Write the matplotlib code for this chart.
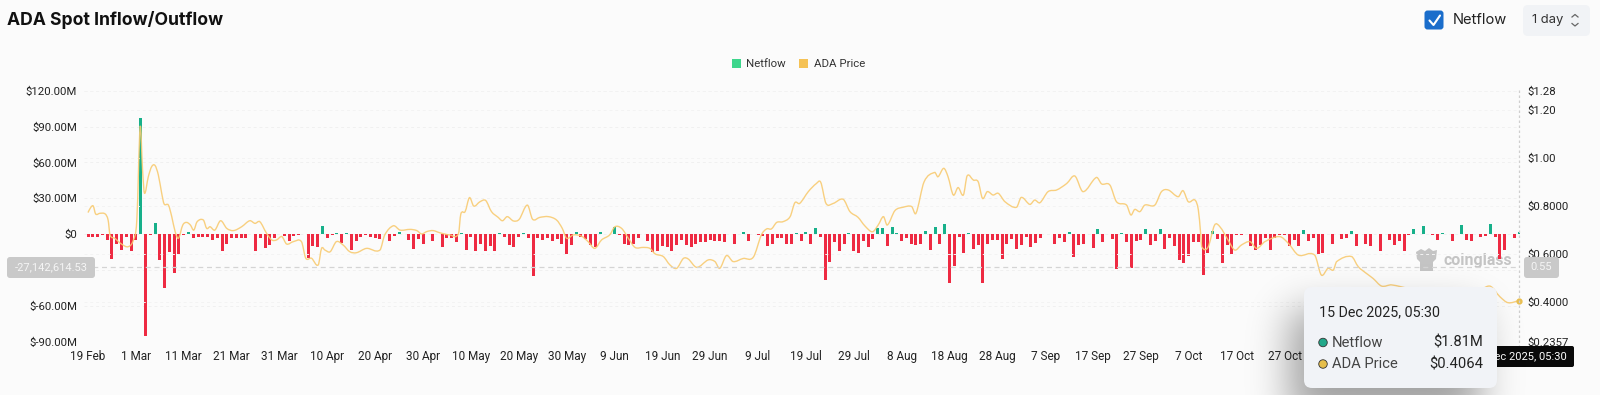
import math
import numpy as np
import pandas as pd
import matplotlib
matplotlib.use("Agg")
import matplotlib.pyplot as plt
import matplotlib.dates as mdates
from matplotlib.patches import FancyBboxPatch, Rectangle, Ellipse, Polygon, PathPatch
from matplotlib.path import Path

W, H = 1600, 395
BG = "#FBFBFB"
START = "2025-02-19"

netflow_m = [
 -2,-2,-2,-1,-5,-21,-8.5,-13.5,-2,-14.5,-4.5,97,-85.5,-1,9,-21.5,-45,-15,-32.5,-17,
 -0.5,2,-3.5,-2.5,-2,-2,-5,-3.5,-14.5,-8,-3,-3,-3,-3,0.3,-14.5,-3,-12,-9.5,-3.5,
 0,-1.5,-6,-1.5,-1,0.3,-20,-10,-10.5,6.5,-3.5,-0.5,0.8,-7.5,0.8,-13,-6,-2,-1,-2.5,
 -3.5,-4,0.5,-6,-1.5,2,0.5,-5,-12.5,-4,-8,0.5,-6,0,-10.5,-3.5,-3.5,-7,1,-13,
 -2,-14,-8,-14.5,-10,-14,1,-2,-9,-10.5,-2.5,0.8,-3,-35,-3,-5,-3,-6,-4,-8,
 -17,-9,1.5,-2,-4,-9,-11,2,0.5,0.5,6,-1,-8,-9.5,-8.5,-3.5,0,-6,-15,-14,
 -10,-11,-14,-9,-5,-9,-10.5,-8,-7,-7,-4.5,-5.5,-6,-7,0,-8,0.3,1.5,-6,0,
 -1,-1.5,-10,-8,-3.5,-3.5,-8,-8.5,1,-5.5,1.5,-8,5.5,-2,-38.5,-23.7,-6.5,-14,-8.5,1,
 -14,-16,-6,-11,-4,5,5,-10,6,1,-6,-3,-8,-9,-8,2.5,-13,6,-8,8.5,
 -41,-27,-2.5,-16,1,-12.5,-9,-40.5,-8,-5,-5,-21,-8,-4,-12.5,-9,-2,-11,-7.5,-3,
 0.5,0,-8,-3,-7,1.5,-19,-9,-8.5,0.5,-12,4,-7,0.3,-4,-29,1,-6.5,-28.5,-5.5,
 -5,4,-9,-6,4.5,-12.5,-3.5,-10,-22,-24,-18,-7,-7,-34,-16,2.5,-4,-24,-9,-17,
 -1,-1,0,-10,-13,-9,-3,-13,-3,-1,-1,-10,-5,-10,3.5,-6,-3,-17,-16,0.3,
 -8,0.3,-4,-3,3,-10,0,-8,-10,0,-14,0,-5,-9,-6,-14,-1,4.5,0,7,
 0,-0.5,-4.5,1,0,-6,0,8,-5,-6,0.3,-2,-1.5,8.5,-2,-21,-13,0,-3,1.81,
]

price_day = [
 0,.6,1.1,1.6,2.5,3.6,4.2,4.6,5.6,7,8.4,9.5,10.2,10.9,11.4,11.8,12.6,13.3,14,14.7,15.4,15.9,16.8,17.5,18.2,18.9,
 19.8,20.6,21.4,22.1,22.8,24.1,24.8,25.5,26.5,27.7,29,30.4,32.1,33.8,34.9,35.9,37.3,38.4,39.4,40.5,41.5,42.9,44.6,
 45.5,46.7,48.1,48.8,49.5,50.6,51.9,53.3,54.7,56.1,58.2,61,62,63.8,65.2,
 67.3,68.7,69.7,70.8,72.1,73.5,75.6,77.4,77.9,78.8,79.7,80.6,81.9,83.1,84.3,85.7,86.6,87.6,88.9,90.1,91.8,92.9,94.4,
 96.2,97.9,99.1,100,101.4,103.1,104.5,105.9,107.3,109,110.1,111.5,112.9,114.3,116,117.4,118.5,120.2,121.6,123,124.4,
 125.4,127.2,129.6,131,132,133.4,134.8,136.9,139,140.7,141.8,142.8,143.9,145.2,146.7,147.7,148.7,
 150.5,152.2,153.1,154.2,155.7,157.8,159.2,160.9,162.3,163.9,165.1,166.2,167,168.6,170.3,172.1,173,174.7,176.9,177.6,
 178.8,179.7,180.8,181.8,182.9,183.7,185,186,186.9,187.9,189.1,190.2,191.6,194,195,196.8,197.8,198.9,200.6,202.4,204.5,
 206.2,207.9,210.7,211.8,213.5,214.9,217,217.9,218.7,219.8,220.8,222.9,224.3,225.7,227.8,228.8,229.9,231.3,232,232.5,
 232.7,234,235.4,236.5,238.2,239.6,241,242.8,244.2,245.9,249,250.8,252.9,256.3,257.7,259.1,260.2,260.9,264,265.4,267.1,
 268.5,270.3,272.4,280,290,292.9,295,296.7,299,
]
price_usd = [
 .773,.795,.800,.767,.770,.767,.742,.680,.666,.642,.631,.659,.742,1.130,.950,.853,.922,.964,.969,.929,.853,.809,.804,.756,.694,.666,
 .721,.732,.721,.700,.735,.742,.707,.714,.700,.739,.707,.698,.714,.739,.728,.735,.687,.659,.659,.673,.642,.652,.652,
 .583,.583,.555,.624,.617,.610,.652,.638,.610,.606,.624,.617,.680,.718,.700,
 .703,.698,.684,.694,.698,.689,.680,.684,.767,.777,.835,.800,.818,.823,.777,.753,.739,.756,.738,.745,.804,.745,.753,
 .756,.742,.707,.666,.680,.675,.652,.624,.659,.680,.714,.707,.666,.628,.628,.624,.601,.590,.555,.541,.582,
 .580,.545,.576,.569,.541,.594,.569,.582,.587,.680,.705,.705,.732,.735,.756,.814,.811,
 .860,.894,.899,.811,.811,.828,.777,.753,.718,.693,.721,.756,.721,.781,.795,.798,.770,.901,.940,.922,
 .957,.922,.846,.877,.846,.926,.908,.901,.832,.860,.846,.853,.818,.795,.836,.807,.825,.814,.860,.867,.894,
 .925,.860,.919,.892,.888,.818,.804,.763,.786,.777,.804,.804,.860,.867,.839,.864,.818,.825,.784,.680,
 .631,.628,.721,.714,.659,.617,.638,.652,.624,.652,.673,.645,.596,.596,.513,.541,.534,.569,.590,.548,.520,
 .499,.467,.472,.44,.44,.467,.423,.398,.4064,
]
assert len(price_day) == len(price_usd), (len(price_day), len(price_usd))

left_ticks = [-90, -60, -30, 0, 30, 60, 90, 120]
left_labels = ["$-90.00M", "$-60.00M", "", "$0", "$30.00M", "$60.00M", "$90.00M", "$120.00M"]
right_ticks = [0.2357, 0.4, 0.6, 0.8, 1.0, 1.2, 1.28]
right_labels = ["$0.2357", "$0.4000", "$0.6000", "$0.8000", "$1.00", "$1.20", "$1.28"]

FONT = "Roboto"
UI = "Inter"
plt.rcParams["font.family"] = [FONT, "DejaVu Sans"]

fig = plt.figure(figsize=(W / 100, H / 100), dpi=100, facecolor=BG)
L, R, T, B = 84.0, 1520.0, 90.7, 341.7
ax = fig.add_axes([L / W, 1 - B / H, (R - L) / W, (B - T) / H], facecolor="none")
ax2 = ax.twinx()
ax2.set_facecolor("none")

dates = pd.date_range(START, periods=len(netflow_m), freq="D")
start = dates[0]
pxday = 4.786
x0 = mdates.date2num(start)
ax.set_xlim(x0 + (L - 88) / pxday, x0 + (R - 88) / pxday)
ax.set_ylim(-90, 120)
ax2.set_ylim(0.2357, 1.28)

vals = np.array(netflow_m)
cols = np.where(vals >= 0, "#17B08A", "#EE2A42")
ax.bar(mdates.date2num(dates), vals, width=3.0 / pxday, color=cols, linewidth=0, zorder=3)

# smooth price line: cubic curve segments through the read points
px = x0 + np.array(price_day, dtype=float)
py = np.array(price_usd, dtype=float)
verts, codes = [(px[0], py[0])], [Path.MOVETO]
for k in range(len(px) - 1):
    a, b = max(k - 1, 0), min(k + 2, len(px) - 1)
    dx = px[k + 1] - px[k]
    c1 = (px[k] + dx / 3, py[k] + (py[k + 1] - py[a]) / (px[k + 1] - px[a]) * dx / 3)
    c2 = (px[k + 1] - dx / 3, py[k + 1] - (py[b] - py[k]) / (px[b] - px[k]) * dx / 3)
    verts += [c1, c2, (px[k + 1], py[k + 1])]
    codes += [Path.CURVE4] * 3
ax2.add_patch(PathPatch(Path(verts, codes), fc="none", ec="#F8CB72", lw=1.0, alpha=.9, zorder=4))
ax2.plot([px[-1]], [py[-1]], "o", ms=3.5, color="#E9BE4F", zorder=5, clip_on=False)

for s in list(ax.spines.values()) + list(ax2.spines.values()):
    s.set_visible(False)

ax.set_yticks(left_ticks, left_labels)
ax.tick_params(axis="y", length=0, pad=5, labelsize=8.2, labelcolor="#222222")
ax2.set_yticks(right_ticks, right_labels)
ax2.tick_params(axis="y", length=0, pad=5, labelsize=8.2, labelcolor="#222222")
tick_dates = pd.date_range(START, "2025-12-15", freq="10D")
ax.set_xticks(mdates.date2num(tick_dates), [d.strftime("%-d %b") for d in tick_dates])
ax.tick_params(axis="x", length=0, pad=6, labelsize=8.5, labelcolor="#222222")

ax.grid(axis="y", color="#F0F0F0", lw=.7, ls=(0, (3, 3)), zorder=0)
ax2.grid(axis="y", color="#F3F3F3", lw=.7, ls=(0, (3, 3)), zorder=0)
ax.set_axisbelow(True)

# overlay in pixel coordinates for interface furniture
ov = fig.add_axes([0, 0, 1, 1], facecolor="none", zorder=10)

ov.text(7, 20, "ADA Spot Inflow/Outflow", fontsize=12.7, fontweight="bold", family=UI, color="#111111",
        va="center", ha="left")

# legend
ov.add_patch(Rectangle((732, 59), 9, 9, color="#3DD68C", lw=0))
ov.text(746, 64, "Netflow", fontsize=8.2, color="#333333", va="center")
ov.add_patch(Rectangle((799, 59), 9, 9, color="#F5C255", lw=0))
ov.text(814, 64, "ADA Price", fontsize=8.2, color="#333333", va="center")

# checkbox
ov.add_patch(FancyBboxPatch((1426, 12), 16, 16, boxstyle="round,pad=1.5,rounding_size=3", fc="#1A6DCB", ec="none"))
ov.plot([1429.5, 1433.5, 1440], [20.5, 25, 15.5], color="white", lw=1.5, solid_capstyle="round")
ov.text(1453, 20.5, "Netflow", fontsize=10.6, family=UI, color="#222222", va="center")
ov.add_patch(FancyBboxPatch((1525, 7), 63, 27, boxstyle="round,pad=2,rounding_size=5", fc="#F1F3F6", ec="none"))
ov.text(1532, 20.5, "1 day", fontsize=9.4, family=UI, color="#333333", va="center")
ov.plot([1572, 1575, 1578], [17, 14.5, 17], color="#666666", lw=.9)
ov.plot([1572, 1575, 1578], [23.5, 26, 23.5], color="#666666", lw=.9)

# crosshair
ov.plot([84, 1519], [267, 267], color="#D4D4D4", lw=.9, ls=(0, (4, 3)), zorder=1)
ov.plot([1519, 1519], [90, 346], color="#CFCFCF", lw=.9, ls=(0, (2, 2)), zorder=1)
ov.add_patch(FancyBboxPatch((9, 259), 84, 17, boxstyle="round,pad=2,rounding_size=3", fc="#C9C9C9", ec="none"))
ov.text(51, 267.5, "-27,142,614.53", fontsize=8, color="#F5F5F5", ha="center", va="center")
ov.add_patch(FancyBboxPatch((1526, 259), 31, 17, boxstyle="round,pad=2,rounding_size=3", fc="#C9C9C9", ec="none"))
ov.text(1541.5, 267.5, "0.55", fontsize=8, color="#F5F5F5", ha="center", va="center")

# black axis label (partly behind tooltip)
ov.add_patch(FancyBboxPatch((1450, 348), 122, 17, boxstyle="round,pad=2,rounding_size=2", fc="#0A0A0A", ec="none", zorder=3))
ov.text(1567, 356.5, "15 Dec 2025, 05:30", fontsize=8, color="white", ha="right", va="center", zorder=3.5)

# soft tooltip shadow
sx = np.arange(1220, 1540) + .5
sy = np.arange(240, 395) + .5
erf = np.vectorize(math.erf)
sig = 20.0
fx = .5 * (erf((sx - 1290) / (sig * 1.414)) - erf((sx - 1480) / (sig * 1.414)))
fy = .5 * (erf((sy - 310) / (sig * 1.414)) - erf((sy - 420) / (sig * 1.414)))
alpha = .36 * np.outer(fy, fx)
rgba = np.zeros(alpha.shape + (4,))
rgba[..., 3] = alpha
ov.imshow(rgba, extent=(1220, 1540, 395, 240), aspect="auto", zorder=4, interpolation="bilinear")

ov.add_patch(FancyBboxPatch((1304, 287), 193, 101, boxstyle="round,pad=0,rounding_size=8", fc="#F1F3F7", ec="none", zorder=5))
ov.text(1319, 312, "15 Dec 2025, 05:30", fontsize=10.3, color="#222222", va="center", zorder=6)
ov.add_patch(Ellipse((1323, 342.5), 8.5, 8.5, fc="#22A88A", ec="#333333", lw=.6, zorder=6))
ov.add_patch(Ellipse((1323, 364), 8.5, 8.5, fc="#E6BE4A", ec="#333333", lw=.6, zorder=6))
ov.text(1332, 343, "Netflow", fontsize=10.6, color="#444444", va="center", zorder=6)
ov.text(1332, 364.5, "ADA Price", fontsize=10.6, color="#444444", va="center", zorder=6)
ov.text(1483, 343, "$1.81M", fontsize=10.6, color="#222222", va="center", ha="right", zorder=6)
ov.text(1483, 364.5, "$0.4064", fontsize=10.6, color="#222222", va="center", ha="right", zorder=6)

ov.set_xlim(0, W)
ov.set_ylim(H, 0)
ov.axis("off")

# watermark behind the bars
wm = "#C4C4C4"
ax.add_patch(Polygon([(1416, 252), (1421, 249), (1425, 251), (1429, 248), (1433, 251), (1437, 250),
                      (1436, 259), (1433, 262), (1433, 271), (1420, 271), (1420, 262), (1417, 259)],
                     closed=True, fc=wm, ec="none", zorder=1, transform=ov.transData, clip_on=False))
ax.text(1443, 260, "coinglass", fontsize=11.5, fontweight="bold", color=wm, va="center", zorder=1,
        transform=ov.transData)

fig.savefig("out.png", dpi=100, facecolor=BG)
